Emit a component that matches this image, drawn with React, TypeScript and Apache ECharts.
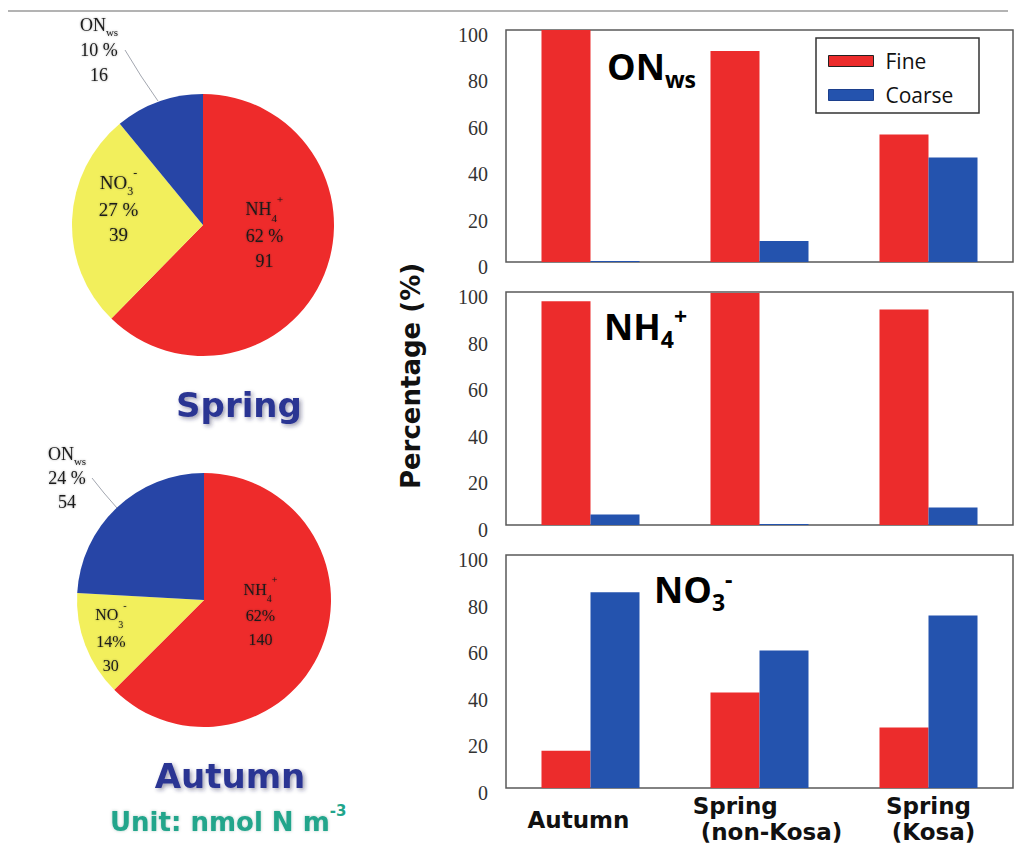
import React, { useEffect, useRef } from 'react';
import * as echarts from 'echarts';

// ---------- data ----------
const pieSpecies = ['NH4+', 'NO3-', 'ONws'];
const springValues = [91, 39, 16];
const springPct = ['62 %', '27 %', '10 %'];
const autumnValues = [140, 30, 54];
const autumnPct = ['62%', '14%', '24 %'];

const categories = ['Autumn', 'Spring\n(non-Kosa)', 'Spring\n(Kosa)'];
const sizeClasses = ['Fine', 'Coarse'];
const onwsFine = [100, 91, 55];
const onwsCoarse = [0.4, 9, 45];
const nh4Fine = [96, 99.6, 92.5];
const nh4Coarse = [4.5, 0.4, 7.5];
const no3Fine = [16, 41, 26];
const no3Coarse = [84, 59, 74];
const yMin = 0;
const yMax = 100;
const yStep = 20;

// ---------- styles ----------
const RED = '#EC2C2C';
const BLUE = '#2453AE';
const PIE_COLORS = ['#EE2B2B', '#F2EF5C', '#2745A6'];
const SANS = '"Open Sans", "DejaVu Sans", sans-serif';
const SERIF = '"Liberation Serif", "DejaVu Serif", serif';
const VERD = '"DejaVu Sans", sans-serif';

const speciesRich: Record<string, string> = {
  'NH4+': '{m|NH}{sub|4}{sup|+}',
  'NO3-': '{m|NO}{sub|3}{sup|-}',
  ONws: '{m|ON}{sub|ws}',
};

const pieTextShadow = { textShadowColor: 'rgba(0,0,0,0.35)', textShadowBlur: 2 };
const makePieRich = (fs: number, lh: number) => {
  const subFs = Math.round(fs * 0.62);
  return {
    m: { fontSize: fs, fontFamily: SERIF, color: '#1a1a1a', lineHeight: lh, ...pieTextShadow },
    sub: { fontSize: subFs, fontFamily: SERIF, color: '#1a1a1a', verticalAlign: 'bottom', lineHeight: lh - 5, ...pieTextShadow },
    sup: { fontSize: subFs, fontFamily: SERIF, color: '#1a1a1a', verticalAlign: 'top', lineHeight: lh + 5, ...pieTextShadow },
    t: { fontSize: fs, fontFamily: SERIF, color: '#1a1a1a', lineHeight: lh, ...pieTextShadow },
  };
};

function pieSeries(
  values: number[],
  pcts: string[],
  center: [number, number],
  radius: number,
  layouts: any[],
  fontSizes: number[],
  lineHeight: number
) {
  return {
    type: 'pie',
    center,
    radius,
    startAngle: 90,
    clockwise: true,
    silent: true,
    data: pieSpecies.map((name, i) => ({
      name,
      value: values[i],
      itemStyle: { color: PIE_COLORS[i] },
      label: { position: i === 2 ? 'outside' : 'inside', rich: makePieRich(fontSizes[i], lineHeight) },
      labelLine: { show: i === 2 },
    })),
    label: {
      show: true,
      color: '#1a1a1a',
      formatter: (p: any) =>
        `${speciesRich[p.name]}\n{t|${pcts[p.dataIndex]}}\n{t|${values[p.dataIndex]}}`,
      rich: makePieRich(fontSizes[0], lineHeight),
    },
    labelLine: { show: false, lineStyle: { color: '#8a8f9a', width: 0.8 }, smooth: false },
    labelLayout: (p: any) => layouts[p.dataIndex],
  };
}

const panelTops = [30, 292, 555];
const panelHeights = [232, 233, 233];
const fineSets = [onwsFine, nh4Fine, no3Fine];
const coarseSets = [onwsCoarse, nh4Coarse, no3Coarse];

export default function App() {
  const ref = useRef<HTMLDivElement>(null);
  useEffect(() => {
    if (!ref.current) return;
    const chart = echarts.init(ref.current, undefined, { renderer: 'svg' });

    const grids = panelTops.map((top, i) => ({
      left: 506,
      right: 5,
      top,
      height: panelHeights[i],
      show: true,
      borderColor: '#5a5a5a',
      borderWidth: 1.5,
      backgroundColor: 'transparent',
    }));

    const xl = { fontSize: 23, fontWeight: 'bold', fontFamily: VERD, color: '#111', lineHeight: 26 };
    const xAxes = panelTops.map((_, i) => ({
      type: 'category',
      gridIndex: i,
      data: categories,
      axisLine: { show: false },
      axisTick: { show: false },
      axisLabel:
        i === 2
          ? {
              show: true,
              margin: 5,
              interval: 0,
              formatter: (v: string, idx: number) => {
                const parts = v.split('\n');
                if (idx === 0) return `{au|${parts[0]}}`;
                if (idx === 1) return `{l1|${parts[0]}}\n{r1|${parts[1]}}`;
                return `{c|${parts[0]}}\n{c2|${parts[1]}}`;
              },
              rich: {
                au: { ...xl, padding: [27, 24, 0, 0] },
                l1: { ...xl, align: 'left', padding: [0, 0, 0, 16] },
                r1: { ...xl, padding: [0, 0, 0, 24] },
                c: { ...xl },
                c2: { ...xl, padding: [0, 0, 0, 10] },
              },
            }
          : { show: false },
      splitLine: { show: false },
    }));

    const yAxes = panelTops.map((_, i) => ({
      type: 'value',
      gridIndex: i,
      min: yMin,
      max: yMax,
      interval: yStep,
      axisLine: { show: false },
      axisTick: { show: false },
      splitLine: { show: false },
      axisLabel: {
        fontFamily: SERIF,
        fontSize: 20,
        color: '#333',
        margin: 18,
        verticalAlign: 'top',
        lineHeight: 10,
      },
    }));

    const barSeries: any[] = [];
    panelTops.forEach((_, i) => {
      [fineSets[i], coarseSets[i]].forEach((vals, k) => {
        barSeries.push({
          type: 'bar',
          name: sizeClasses[k],
          xAxisIndex: i,
          yAxisIndex: i,
          data: vals,
          barGap: '0%',
          barCategoryGap: '42%',
          itemStyle: { color: k === 0 ? RED : BLUE },
          silent: true,
        });
      });
    });

    const springLayouts = [
      { dx: -2, dy: -17 },
      { dx: -16, dy: -15 },
      {
        x: 99,
        y: 50,
        align: 'center',
        verticalAlign: 'middle',
        labelLinePoints: [
          [158, 101],
          [141, 76],
          [125, 50],
        ],
      },
    ];
    const autumnLayouts = [
      { dx: -5, dy: -12 },
      { dx: -31, dy: 15 },
      {
        x: 67,
        y: 478,
        align: 'center',
        verticalAlign: 'middle',
        labelLinePoints: [
          [117, 508],
          [104, 493],
          [92, 478],
        ],
      },
    ];

    const titleRich = (main: number, sub: number) => ({
      m: { fontSize: main, fontWeight: 'bold', fontFamily: SANS, fill: '#000' },
      sub: { fontSize: sub, fontWeight: 'bold', fontFamily: SANS, fill: '#000', verticalAlign: 'bottom', padding: [0, 0, -6, 0] },
      sup: { fontSize: sub, fontWeight: 'bold', fontFamily: SANS, fill: '#000', verticalAlign: 'top', padding: [-4, 0, 0, 0] },
    });

    const shadowTitle = {
      textShadowColor: 'rgba(40,40,80,0.45)',
      textShadowBlur: 4,
      textShadowOffsetX: 2,
      textShadowOffsetY: 2,
    };

    chart.setOption({
      animation: false,
      backgroundColor: '#ffffff',
      grid: grids,
      xAxis: xAxes,
      yAxis: yAxes,
      legend: {
        show: true,
        orient: 'vertical',
        left: 828,
        top: 49,
        padding: 0,
        itemWidth: 45,
        itemHeight: 11,
        itemGap: 10,
        selectedMode: false,
        icon: 'rect',
        data: [
          { name: 'Fine', itemStyle: { borderColor: '#222', borderWidth: 1 } },
          { name: 'Coarse', itemStyle: { borderColor: '#1c3f8c', borderWidth: 1 } },
        ],
        textStyle: { fontFamily: SANS, fontSize: 21, color: '#111', lineHeight: 24, padding: [0, 0, 0, 7] },
      },
      series: [
        pieSeries(springValues, springPct, [203, 225], 131, springLayouts, [18, 19, 18], 25),
        pieSeries(autumnValues, autumnPct, [204, 600], 127, autumnLayouts, [16, 16, 18], 24),
        ...barSeries,
      ],
      graphic: [
        { type: 'line', shape: { x1: 8, y1: 11, x2: 1008, y2: 11 }, style: { stroke: '#9a9a9a', lineWidth: 1.5 } },
        { type: 'rect', shape: { x: 816, y: 38, width: 163, height: 75 }, style: { fill: 'none', stroke: '#333', lineWidth: 1.5 } },
        {
          type: 'text',
          x: 607,
          y: 66,
          style: { text: '{m|ON}{sub|ws}', rich: titleRich(36, 23), verticalAlign: 'middle', align: 'left' },
        },
        {
          type: 'text',
          x: 604,
          y: 326,
          style: { text: '{m|NH}{sub|4}{sup|+}', rich: titleRich(36, 23), verticalAlign: 'middle', align: 'left' },
        },
        {
          type: 'text',
          x: 654,
          y: 589,
          style: { text: '{m|NO}{sub|3}{sup|-}', rich: titleRich(36, 23), verticalAlign: 'middle', align: 'left' },
        },
        {
          type: 'text',
          x: 411,
          y: 376,
          rotation: Math.PI / 2,
          style: {
            text: 'Percentage (%)',
            fontFamily: VERD,
            fontWeight: 'bold',
            fontSize: 26,
            fill: '#111',
            align: 'center',
            verticalAlign: 'middle',
          },
        },
        {
          type: 'text',
          x: 239,
          y: 405,
          style: {
            text: 'Spring',
            fontFamily: VERD,
            fontWeight: 'bold',
            fontSize: 34,
            fill: '#2B3493',
            align: 'center',
            verticalAlign: 'middle',
            ...shadowTitle,
          },
        },
        {
          type: 'text',
          x: 230,
          y: 776,
          style: {
            text: 'Autumn',
            fontFamily: VERD,
            fontWeight: 'bold',
            fontSize: 34,
            fill: '#2B3493',
            align: 'center',
            verticalAlign: 'middle',
            ...shadowTitle,
          },
        },
        {
          type: 'text',
          x: 110,
          y: 822,
          style: {
            text: '{u|Unit: nmol N m}{s|-3}',
            rich: {
              u: { fontFamily: VERD, fontWeight: 'bold', fontSize: 26, fill: '#21A58B', textShadowColor: 'rgba(0,80,60,0.3)', textShadowBlur: 3 },
              s: { fontFamily: VERD, fontWeight: 'bold', fontSize: 15, fill: '#21A58B', verticalAlign: 'top', padding: [-6, 0, 0, 0] },
            },
            align: 'left',
            verticalAlign: 'middle',
          },
        },
      ],
    });

    return () => chart.dispose();
  }, []);

  return (
    <div
      ref={ref}
      style={{ position: 'absolute', left: 0, top: 0, width: 1018, height: 845, background: '#fff' }}
    />
  );
}
